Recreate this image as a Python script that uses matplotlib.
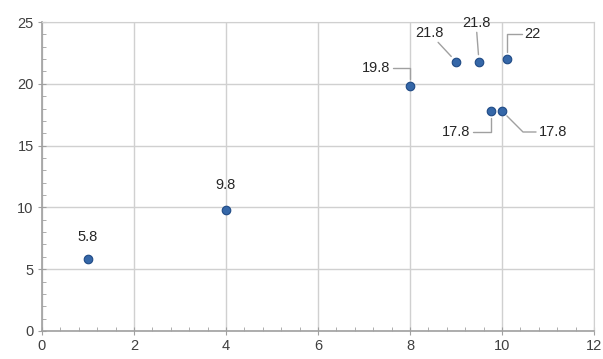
import matplotlib.pyplot as plt
from matplotlib.ticker import MultipleLocator

x_vals = [1, 4, 8, 9, 9.5, 10.1, 9.75, 10]
y_vals = [5.8, 9.8, 19.8, 21.8, 21.8, 22, 17.8, 17.8]
labels = ['5.8', '9.8', '19.8', '21.8', '21.8', '22', '17.8', '17.8']

# label offsets in pixels and leader style per point
offsets = [(0, 22), (0, 25), (-34, 18), (-27, 29), (-3, 39), (26, 25), (-34, -21), (51, -21)]
leaders = [None, None,
           'angle,angleA=0,angleB=90,rad=0',
           'arc3,rad=0',
           'arc3,rad=0',
           'angle,angleA=0,angleB=90,rad=0',
           'angle,angleA=0,angleB=90,rad=0',
           'angle,angleA=0,angleB=-45,rad=0']

plt.rcParams['font.family'] = ['Liberation Sans', 'DejaVu Sans']
plt.rcParams['font.size'] = 10

fig = plt.figure(figsize=(6.03, 3.59), dpi=100)
ax = fig.add_axes([42 / 603, 28 / 359, 552 / 603, 309 / 359])

ax.scatter(x_vals, y_vals, s=38, color='#3567A8', edgecolor='#1F4A85', linewidth=0.8, zorder=3)

for xv, yv, lab, off, conn in zip(x_vals, y_vals, labels, offsets, leaders):
    props = None
    if conn:
        props = dict(arrowstyle='-', color='#A0A0A0', lw=1, shrinkA=0, shrinkB=5,
                     connectionstyle=conn)
    ax.annotate(lab, (xv, yv), xytext=off, textcoords='offset pixels',
                ha='center', va='center', fontsize=10.5, color='#262626',
                arrowprops=props)

ax.set_xlim(0, 12)
ax.set_ylim(0, 25)
ax.xaxis.set_major_locator(MultipleLocator(2))
ax.xaxis.set_minor_locator(MultipleLocator(0.4))
ax.yaxis.set_major_locator(MultipleLocator(5))
ax.yaxis.set_minor_locator(MultipleLocator(1))
ax.grid(which='major', color='#D0D0D0', linewidth=1)
ax.set_axisbelow(True)

for side in ['top', 'right']:
    ax.spines[side].set_color('#D0D0D0')
for side in ['left', 'bottom']:
    ax.spines[side].set_color('#A0A0A0')
    ax.spines[side].set_linewidth(1.2)

ax.tick_params(which='major', direction='inout', length=6, color='#A0A0A0',
               labelsize=10.5, labelcolor='#404040', pad=3)
ax.tick_params(which='minor', direction='in', length=3, color='#A0A0A0')

fig.savefig('out.png', dpi=100)
